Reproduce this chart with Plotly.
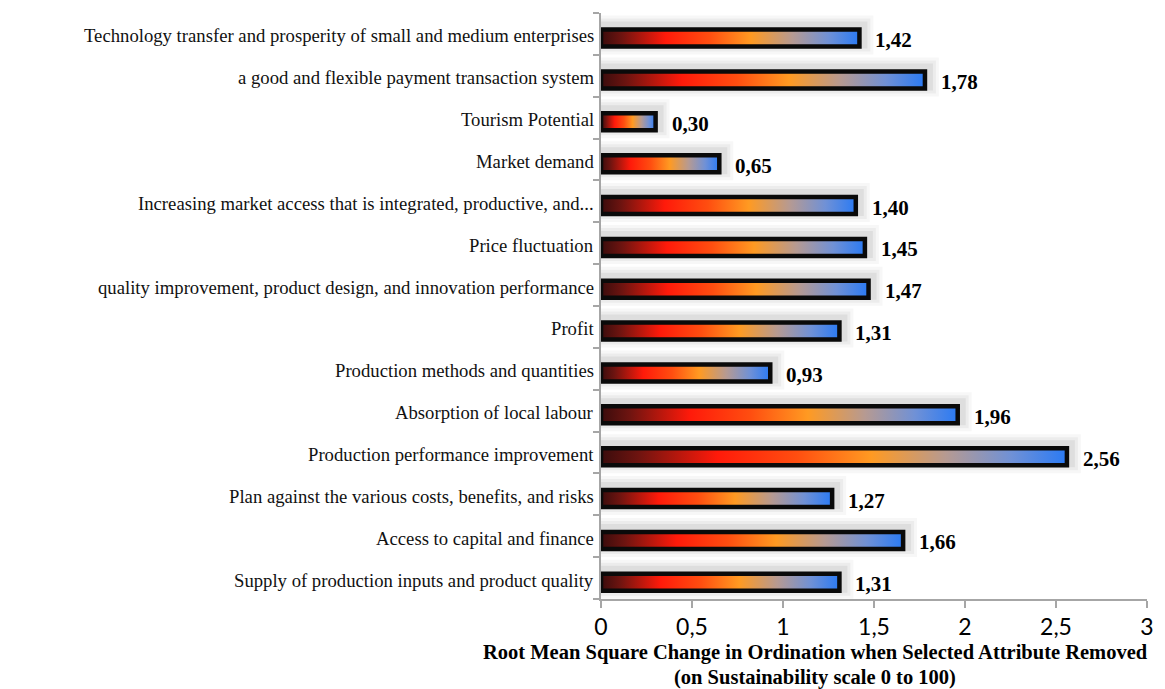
import plotly.graph_objects as go

# Attributes listed bottom to top, with their RMS change values
attributes = [
    "Supply of production inputs and product quality",
    "Access to capital and finance",
    "Plan against the various costs, benefits, and risks",
    "Production performance improvement",
    "Absorption of local labour",
    "Production methods and quantities",
    "Profit",
    "quality improvement, product design, and innovation performance",
    "Price fluctuation",
    "Increasing market access that is integrated, productive, and...",
    "Market demand",
    "Tourism Potential",
    "a good and flexible payment transaction system",
    "Technology transfer and prosperity of small and medium enterprises",
]
rms_change = [1.31, 1.66, 1.27, 2.56, 1.96, 0.93, 1.31, 1.47, 1.45, 1.40, 0.65, 0.30, 1.78, 1.42]

x_ticks = [0, 0.5, 1, 1.5, 2, 2.5, 3]
x_tick_text = ["0", "0,5", "1", "1,5", "2", "2,5", "3"]

x_title_lines = [
    "Root Mean Square Change in Ordination when Selected Attribute Removed",
    "(on Sustainability scale 0 to 100)",
]

W, H = 1165, 689
M_L, M_R, M_T, M_B = 601, 18, 13, 90
X_RANGE = [0, 3]
Y_RANGE = [-0.5, len(attributes) - 0.5]
px_x = (W - M_L - M_R) / (X_RANGE[1] - X_RANGE[0])
px_y = (H - M_T - M_B) / (Y_RANGE[1] - Y_RANGE[0])

BAR_HALF = 8.5 / px_y        # half bar thickness in axis units
BAR_SHIFT = -0.1             # bars sit slightly below the category centre

gradient = [
    [0.00, "#3a0c0c"],
    [0.08, "#6e1410"],
    [0.25, "#ff1a0a"],
    [0.42, "#ff4e10"],
    [0.58, "#ff9a22"],
    [0.74, "#b69a92"],
    [0.88, "#7091d6"],
    [1.00, "#2a7af4"],
]

fig = go.Figure()

# soft drop shadow layers behind each bar
for i, v in enumerate(rms_change):
    yc = i + BAR_SHIFT + 3 / px_y
    for grow, alpha in [(11, 0.03), (8, 0.045), (5, 0.06)]:
        gx = grow / px_x
        gy = grow / px_y
        fig.add_trace(go.Scatter(
            x=[0, v + gx + 3 / px_x, v + gx + 3 / px_x, 0, 0],
            y=[yc - BAR_HALF - gy, yc - BAR_HALF - gy, yc + BAR_HALF + gy, yc + BAR_HALF + gy, yc - BAR_HALF - gy],
            mode="lines", fill="toself", line=dict(width=0),
            fillcolor=f"rgba(0,0,0,{alpha})", hoverinfo="skip", showlegend=False,
        ))

# gradient-filled bars with black frame
for i, v in enumerate(rms_change):
    yc = i + BAR_SHIFT
    fig.add_trace(go.Scatter(
        x=[0, v, v, 0, 0],
        y=[yc - BAR_HALF, yc - BAR_HALF, yc + BAR_HALF, yc + BAR_HALF, yc - BAR_HALF],
        mode="lines", fill="toself",
        fillgradient=dict(type="horizontal", colorscale=gradient),
        line=dict(color="#0a0a0a", width=4.5),
        name=attributes[i], showlegend=False,
        hovertemplate="%{fullData.name}: " + f"{v:.2f}<extra></extra>",
    ))

annotations = []
# value labels
for i, v in enumerate(rms_change):
    annotations.append(dict(
        x=v, y=i + BAR_SHIFT, xref="x", yref="y",
        text="<b>" + f"{v:.2f}".replace(".", ",") + "</b>",
        showarrow=False, xanchor="left", yanchor="middle", xshift=14, yshift=-2,
        font=dict(family="Liberation Serif", size=21, color="#000000"),
    ))
# category labels
for i, name in enumerate(attributes):
    annotations.append(dict(
        x=0, y=i, xref="paper", yref="y", text=name, showarrow=False,
        xanchor="right", yanchor="middle", xshift=-5, yshift=-2,
        font=dict(family="Liberation Serif", size=18.7, color="#111111"),
    ))
# axis title, two centred lines
for k, line in enumerate(x_title_lines):
    annotations.append(dict(
        x=0.392, y=-0.092 - 0.042 * k, xref="paper", yref="paper", text="<b>" + line + "</b>",
        showarrow=False, xanchor="center", yanchor="middle",
        font=dict(family="Liberation Serif", size=20.5, color="#000000"),
    ))

fig.update_layout(
    width=W, height=H,
    margin=dict(l=M_L, r=M_R, t=M_T, b=M_B),
    paper_bgcolor="white", plot_bgcolor="white",
    xaxis=dict(
        range=X_RANGE, tickvals=x_ticks, ticktext=x_tick_text,
        showgrid=False, zeroline=False, showline=True, linecolor="#a6a6a6", linewidth=1.5,
        ticks="outside", ticklen=7, tickcolor="#a6a6a6", tickwidth=1.5,
        tickfont=dict(family="Lato", size=23, color="#000000"),
    ),
    yaxis=dict(
        range=Y_RANGE,
        tickvals=[k - 0.5 for k in range(len(attributes) + 1)],
        showticklabels=False,
        showgrid=False, zeroline=False, showline=True, linecolor="#a6a6a6", linewidth=1.5,
        ticks="outside", ticklen=6, tickcolor="#a6a6a6", tickwidth=1.5,
    ),
    annotations=annotations,
)

fig.write_html("out.html")
